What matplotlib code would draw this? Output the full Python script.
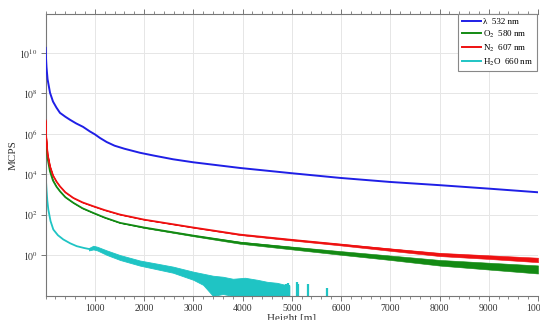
import numpy as np
import matplotlib
matplotlib.use("Agg")
import matplotlib.pyplot as plt
from matplotlib.ticker import FixedLocator, MultipleLocator, NullLocator

plt.rcParams['font.family'] = ['Liberation Serif', 'DejaVu Serif']
plt.rcParams['mathtext.fontset'] = 'stix'

# ---- data (log10 of MCPS) ----
blue_h = [0, 8, 18, 40, 90, 150, 220, 292, 400, 495, 620, 760, 901, 1000, 1105, 1241, 1400,
          1600, 1917, 2200, 2587, 3000, 3948, 5000, 5977, 6992, 8008, 9000, 10000]
blue_log = [10.25, 9.75, 9.3, 8.7, 8.03, 7.6, 7.3, 7.04, 6.85, 6.7, 6.52, 6.35, 6.12, 5.98,
            5.8, 5.6, 5.42, 5.27, 5.07, 4.93, 4.75, 4.6, 4.32, 4.06, 3.83, 3.63, 3.47, 3.3, 3.12]

red_h = [0, 10, 20, 40, 89, 150, 220, 292, 400, 563, 750, 969, 1200, 1511, 2000, 3000,
         3948, 5000, 5977, 7000, 8008, 9000, 10000]
red_log = [6.67, 5.9, 5.6, 5.0, 4.4, 3.95, 3.65, 3.41, 3.12, 2.84, 2.62, 2.43, 2.24, 2.02,
           1.77, 1.38, 1.03, 0.77, 0.54, 0.29, 0.05, -0.08, -0.22]
red_noise = [0, 0, 0, 0, 0, 0, 0, 0, 0, 0, 0, 0, 0, 0, 0, 0.01,
             0.02, 0.03, 0.04, 0.06, 0.08, 0.09, 0.11]

green_h = [0, 10, 20, 40, 89, 150, 220, 292, 400, 563, 750, 969, 1200, 1511, 2000, 3000,
           3948, 5000, 5977, 6992, 8008, 9030, 10000]
green_log = [6.6, 5.8, 5.4, 4.8, 4.15, 3.7, 3.4, 3.17, 2.88, 2.6, 2.33, 2.1, 1.87, 1.61,
             1.38, 0.98, 0.63, 0.37, 0.13, -0.11, -0.36, -0.53, -0.69]
green_noise = [0, 0, 0, 0, 0, 0, 0, 0, 0, 0, 0, 0, 0, 0, 0.02, 0.03,
               0.05, 0.07, 0.09, 0.11, 0.14, 0.17, 0.2]

# thin (quiet) early part of the H2O signal
cyan_line_h = [0, 10, 20, 35, 55, 100, 157, 250, 360, 500, 632, 780, 902]
cyan_line_log = [4.3, 3.6, 3.2, 2.7, 2.27, 1.7, 1.28, 1.0, 0.79, 0.6, 0.46, 0.37, 0.31]
# noisy part of the H2O signal: upper / lower envelope
cyan_h = [880, 969, 1050, 1241, 1511, 1917, 2300, 2587, 3000, 3200, 3400, 3600, 3805, 4050,
          4300, 4500, 4700, 4950]
cyan_hi = [0.37, 0.48, 0.43, 0.25, 0.02, -0.25, -0.42, -0.55, -0.8, -0.9, -1.0, -1.05, -1.15,
           -1.1, -1.2, -1.3, -1.35, -1.5]
cyan_lo = [0.25, 0.3, 0.25, 0.03, -0.22, -0.5, -0.7, -0.85, -1.2, -1.45, -2, -1.9, -2, -2,
           -2, -2, -2, -2]
cyan_spike_h = [4760, 4800, 4880, 4920, 4950, 5100, 5130, 5330, 5720]
cyan_spike_log = [-1.45, -1.5, -1.4, -1.35, -1.45, -1.3, -1.4, -1.4, -1.6]

labels = ['λ  532 nm', r'O$_2$  580 nm', r'N$_2$  607 nm', r'H$_2$O  660 nm']
colors = ['#1f1fe6', '#138a13', '#ee1111', '#1fc4c4']

xticks = [1000, 2000, 3000, 4000, 5000, 6000, 7000, 8000, 9000, 10000]
yticks_exp = [0, 2, 4, 6, 8, 10]

fig = plt.figure(figsize=(5.4, 3.2), dpi=100)
ax = fig.add_axes([45.6 / 540, 1 - 296 / 320, (538 - 45.6) / 540, (296 - 14) / 320])
ax.set_yscale('log')
ax.set_xlim(0, 10000)
ax.set_ylim(1e-2, 10 ** 11.92)

def p(a):
    return 10 ** np.asarray(a, dtype=float)

# cyan
ax.plot(cyan_line_h, p(cyan_line_log), color=colors[3], lw=1.3, zorder=2)
ax.fill_between(cyan_h, p(cyan_lo), p(cyan_hi), color=colors[3], lw=0.6, zorder=2)
ax.vlines(cyan_spike_h, 1e-2, p(cyan_spike_log), color=colors[3], lw=1.6, zorder=2)
# green
gl = np.array(green_log); gn = np.array(green_noise)
ax.fill_between(green_h, p(gl - gn), p(gl + gn), color=colors[1], lw=0.4, zorder=3)
ax.plot(green_h, p(gl), color=colors[1], lw=1.3, zorder=3)
# red
rl = np.array(red_log); rn = np.array(red_noise)
ax.fill_between(red_h, p(rl - rn), p(rl + rn), color=colors[2], lw=0.4, zorder=4)
ax.plot(red_h, p(rl), color=colors[2], lw=1.3, zorder=4)
# blue
ax.plot(blue_h, p(blue_log), color=colors[0], lw=1.4, zorder=5)

# legend handles
handles = []
for i in range(4):
    h, = ax.plot([], [], color=colors[i], lw=1.4, label=labels[i])
    handles.append(h)
leg = ax.legend(handles=handles, loc='upper right', bbox_to_anchor=(0.998, 1.0),
                borderaxespad=0, fontsize=6.5, frameon=True, fancybox=False,
                handlelength=2.2, handletextpad=0.2, labelspacing=0.3,
                borderpad=0.4, edgecolor='#888888', framealpha=1)
leg.get_frame().set_linewidth(0.8)

# ticks
ax.xaxis.set_major_locator(FixedLocator(xticks))
ax.xaxis.set_minor_locator(MultipleLocator(200))
ax.set_xticklabels([str(t) for t in xticks])
ax.yaxis.set_major_locator(FixedLocator([10.0 ** e for e in yticks_exp]))
ax.yaxis.set_minor_locator(NullLocator())
ax.set_yticklabels([r'$10^{%d}$' % e for e in yticks_exp])
ax.tick_params(axis='both', which='major', direction='out', length=3.5, width=0.7,
               colors='#777777', labelcolor='#333333', labelsize=7, pad=2)
ax.tick_params(axis='x', which='minor', direction='out', length=2, width=0.6, colors='#777777')
ax.tick_params(axis='x', which='both', top=True)
ax.tick_params(axis='y', which='both', right=False)

for s in ['left', 'bottom', 'top']:
    ax.spines[s].set_color('#777777')
    ax.spines[s].set_linewidth(0.8)
ax.spines['right'].set_visible(False)

ax.grid(True, which='major', color='#e6e6e6', lw=0.7, zorder=0)
ax.set_axisbelow(True)

ax.set_xlabel('Height [m]', fontsize=8, color='#333333', labelpad=1)
ax.set_ylabel('MCPS', fontsize=8, color='#333333', labelpad=1)

fig.savefig('out.png', dpi=100)
